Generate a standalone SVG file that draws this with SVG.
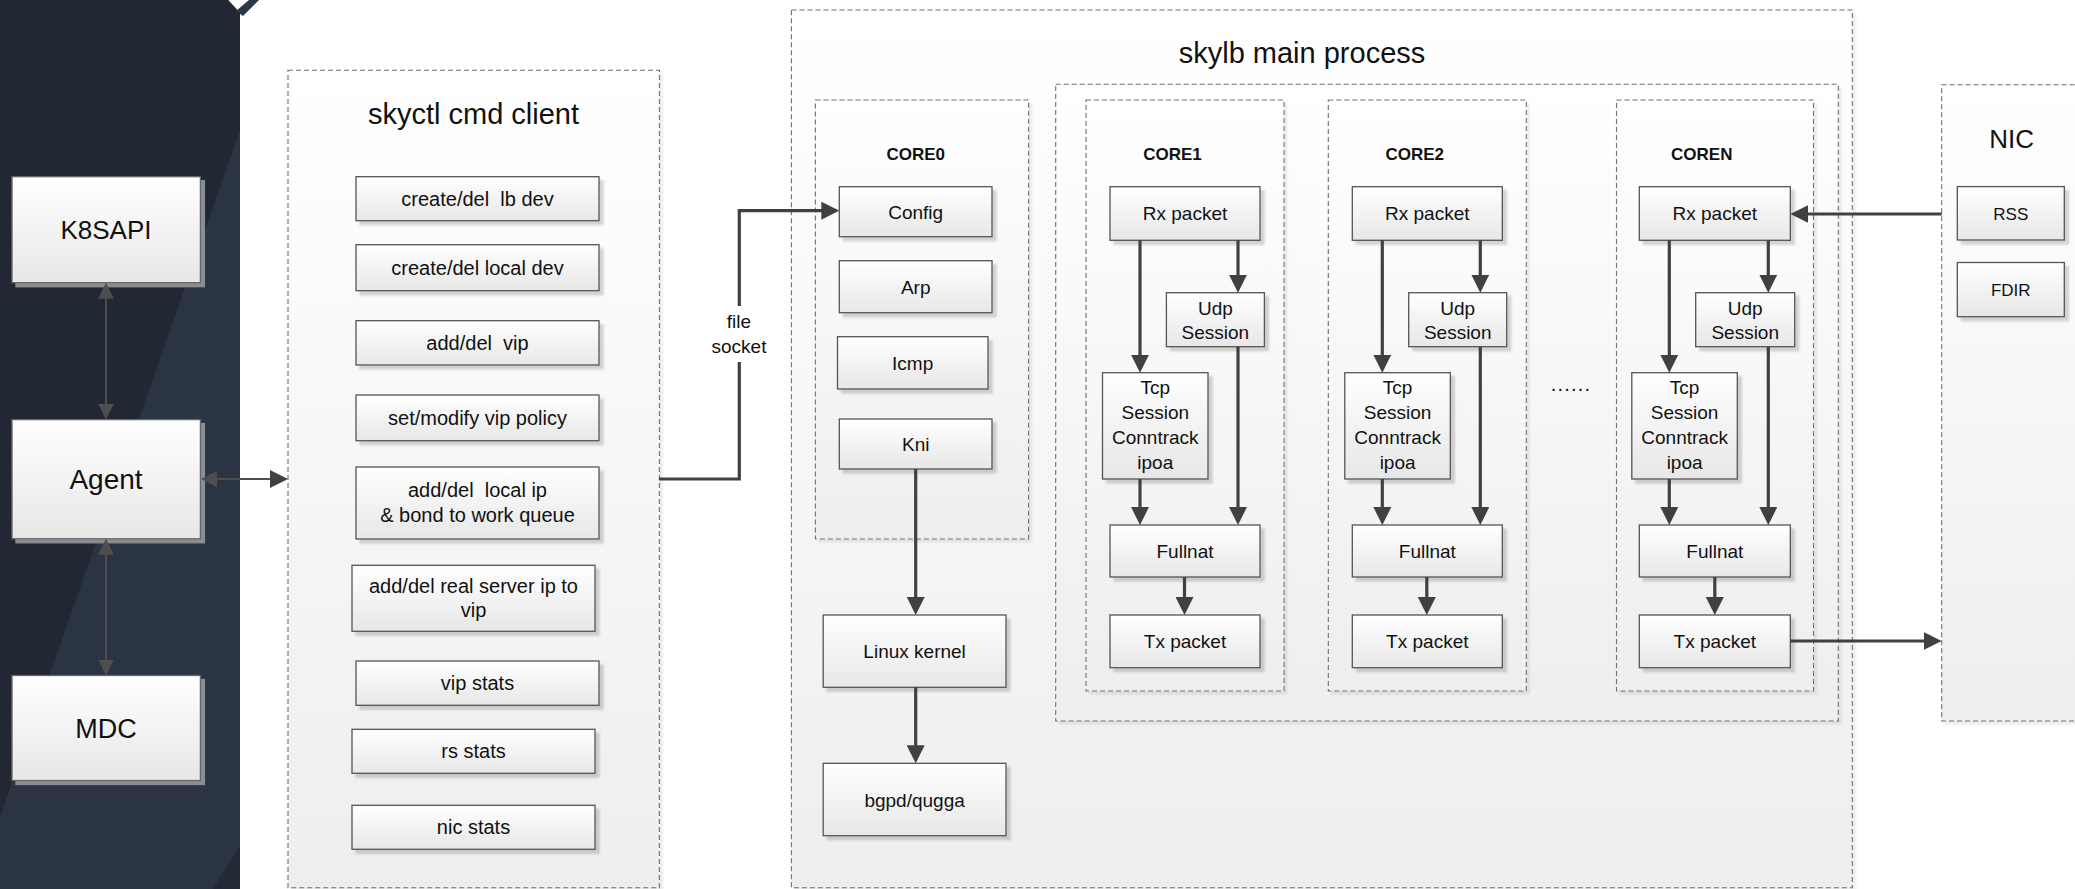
<svg xmlns="http://www.w3.org/2000/svg" width="2075" height="889" viewBox="0 0 2075 889">
<style>
.box{fill:url(#gBox);stroke:#555;stroke-width:1.3;filter:url(#ds)}
.dbox{fill:url(#gBox);stroke:#666;stroke-width:1.3;filter:url(#dsk)}
.cont{fill:url(#gCont);stroke:#707070;stroke-width:1.1;stroke-dasharray:5 3;filter:url(#dsc)}
.t{font-family:"Liberation Sans",Arial,sans-serif;fill:#111;text-anchor:middle}
.s20{font-size:20px}
.s19{font-size:19px}
.s17{font-size:17px}
.bold{font-weight:bold;font-size:17px}
.title{font-size:29px}
.ln{fill:none;stroke:#404040;stroke-width:3.2}
.lnt{fill:none;stroke:#4e4e4e;stroke-width:2}
</style>
<defs>
<linearGradient id="gBox" x1="0" y1="0" x2="0" y2="1"><stop offset="0" stop-color="#ffffff"/><stop offset="1" stop-color="#e7e7e7"/></linearGradient>
<linearGradient id="gCont" x1="0" y1="0" x2="0" y2="1"><stop offset="0" stop-color="#ffffff"/><stop offset="1" stop-color="#eeeeee"/></linearGradient>
<filter id="ds" x="-10%" y="-10%" width="130%" height="140%"><feDropShadow dx="4" dy="4" stdDeviation="0.8" flood-color="#000" flood-opacity="0.16"/></filter>
<filter id="dsk" x="-10%" y="-10%" width="130%" height="140%"><feDropShadow dx="4" dy="4" stdDeviation="0.5" flood-color="#8a8d93" flood-opacity="1"/></filter>
<filter id="dsc" x="-5%" y="-5%" width="110%" height="110%"><feDropShadow dx="3" dy="3" stdDeviation="0.8" flood-color="#000" flood-opacity="0.08"/></filter>
<marker id="ah" viewBox="0 0 18 18" markerWidth="18" markerHeight="18" refX="10" refY="9" orient="auto" markerUnits="userSpaceOnUse"><path d="M0,0 L18,9 L0,18 z" fill="#404040"/></marker>
<marker id="ahg" viewBox="0 0 16 16" markerWidth="16" markerHeight="16" refX="8" refY="8" orient="auto-start-reverse" markerUnits="userSpaceOnUse"><path d="M0,0 L16,8 L0,16 z" fill="#4e4e4e"/></marker>
</defs>
<rect x="0" y="0" width="2075" height="889" fill="#ffffff"/>
<g id="side-panel">
<rect x="0" y="0" width="240" height="889" fill="#222833"/>
<polygon points="240,130 240,889 0,889 0,817" fill="#2b3442"/>
<polygon points="240,845 240,889 213,889" fill="#232a35"/>
<polygon points="228.3,0 240,0 240,12.7" fill="#ffffff"/>
<polygon points="236,11 243,16 259,0 249,0" fill="#2c3849"/>
</g>
<g id="k8sapi"><rect class="dbox" x="12" y="176.7" width="188.4" height="106"/><text class="t" x="106" y="239" font-size="26">K8SAPI</text></g>
<g id="agent"><rect class="dbox" x="12" y="419.6" width="188.4" height="119.2"/><text class="t" x="106" y="488.5" font-size="28">Agent</text></g>
<g id="mdc"><rect class="dbox" x="12" y="675.5" width="188.4" height="105"/><text class="t" x="106" y="737.5" font-size="27">MDC</text></g>
<g id="skyctl">
<rect class="cont" x="288" y="70.3" width="371.4" height="817.4"/>
<text class="t title" x="473.5" y="124">skyctl cmd client</text>
<g id="cmd-lbdev"><rect class="box" x="356" y="176.7" width="243" height="44"/><text class="t s20" x="477.5" y="205.7" xml:space="preserve">create/del  lb dev</text></g>
<g id="cmd-localdev"><rect class="box" x="356" y="244.7" width="243" height="46"/><text class="t s20" x="477.5" y="274.7">create/del local dev</text></g>
<g id="cmd-vip"><rect class="box" x="356" y="320.7" width="243" height="44.3"/><text class="t s20" x="477.5" y="349.9" xml:space="preserve">add/del  vip</text></g>
<g id="cmd-policy"><rect class="box" x="356" y="395" width="243" height="45.7"/><text class="t s20" x="477.5" y="424.9">set/modify vip policy</text></g>
<g id="cmd-localip"><rect class="box" x="356" y="467" width="243" height="72"/><text class="t s20" x="477.5" y="497" xml:space="preserve">add/del  local ip</text><text class="t s20" x="477.5" y="522">&amp; bond to work queue</text></g>
<g id="cmd-rs"><rect class="box" x="352" y="565.3" width="243" height="66"/><text class="t s20" x="473.5" y="592.5">add/del real server ip to</text><text class="t s20" x="473.5" y="617">vip</text></g>
<g id="cmd-vipstats"><rect class="box" x="356" y="661" width="243" height="44.3"/><text class="t s20" x="477.5" y="690">vip stats</text></g>
<g id="cmd-rsstats"><rect class="box" x="352" y="729.3" width="243" height="44"/><text class="t s20" x="473.5" y="758.3">rs stats</text></g>
<g id="cmd-nicstats"><rect class="box" x="352" y="805.3" width="243" height="44"/><text class="t s20" x="473.5" y="834.3">nic stats</text></g>
</g>
<g id="skylb">
<rect class="cont" x="791.4" y="10" width="1060.9" height="877.7"/>
<text class="t title" x="1302" y="63">skylb main process</text>
<rect id="workers" class="cont" x="1055.7" y="84.3" width="782.6" height="636.7"/>
</g>
<g id="core0">
<rect class="cont" x="815.4" y="100" width="213.2" height="439"/>
<text class="t bold" x="915.7" y="160">CORE0</text>
<g id="config"><rect class="box" x="839.3" y="186.7" width="152.7" height="50"/><text class="t s19" x="915.7" y="218.5">Config</text></g>
<g id="arp"><rect class="box" x="839.3" y="260.7" width="152.7" height="52"/><text class="t s19" x="915.7" y="293.5">Arp</text></g>
<g id="icmp"><rect class="box" x="837.5" y="336.7" width="150.5" height="52.3"/><text class="t s19" x="912.7" y="369.6">Icmp</text></g>
<g id="kni"><rect class="box" x="839.3" y="419" width="152.7" height="50"/><text class="t s19" x="915.7" y="451">Kni</text></g>
</g>
<g id="linux-kernel"><rect class="box" x="823.2" y="615" width="182.8" height="72.3"/><text class="t s19" x="914.6" y="658">Linux kernel</text></g>
<g id="bgpd"><rect class="box" x="823.2" y="763.3" width="182.8" height="72.4"/><text class="t s19" x="914.6" y="806.5">bgpd/qugga</text></g>
<g id="core1">
<rect class="cont" x="1086" y="100" width="198" height="591"/>
<text class="t bold" x="1172.5" y="160">CORE1</text>
<g id="rx1"><rect class="box" x="1110" y="186.7" width="150" height="53.6"/><text class="t s19" x="1185" y="220">Rx packet</text></g>
<g id="udp1"><rect class="box" x="1166.4" y="292.7" width="98" height="54"/><text class="t s19" x="1215.4" y="314.7">Udp</text><text class="t s19" x="1215.4" y="338.7">Session</text></g>
<g id="tcp1"><rect class="box" x="1102.5" y="372.7" width="105.5" height="106.3"/><text class="t s19" x="1155.3" y="394">Tcp</text><text class="t s19" x="1155.3" y="419">Session</text><text class="t s19" x="1155.3" y="444">Conntrack</text><text class="t s19" x="1155.3" y="469">ipoa</text></g>
<g id="fullnat1"><rect class="box" x="1110" y="525" width="150" height="52"/><text class="t s19" x="1185" y="558">Fullnat</text></g>
<g id="tx1"><rect class="box" x="1110" y="615" width="150" height="52.7"/><text class="t s19" x="1185" y="648">Tx packet</text></g>
</g>
<g id="core2">
<rect class="cont" x="1328.3" y="100" width="198" height="591"/>
<text class="t bold" x="1414.8" y="160">CORE2</text>
<g id="rx2"><rect class="box" x="1352.3" y="186.7" width="150" height="53.6"/><text class="t s19" x="1427.3" y="220">Rx packet</text></g>
<g id="udp2"><rect class="box" x="1408.7" y="292.7" width="98" height="54"/><text class="t s19" x="1457.7" y="314.7">Udp</text><text class="t s19" x="1457.7" y="338.7">Session</text></g>
<g id="tcp2"><rect class="box" x="1344.8" y="372.7" width="105.5" height="106.3"/><text class="t s19" x="1397.6" y="394">Tcp</text><text class="t s19" x="1397.6" y="419">Session</text><text class="t s19" x="1397.6" y="444">Conntrack</text><text class="t s19" x="1397.6" y="469">ipoa</text></g>
<g id="fullnat2"><rect class="box" x="1352.3" y="525" width="150" height="52"/><text class="t s19" x="1427.3" y="558">Fullnat</text></g>
<g id="tx2"><rect class="box" x="1352.3" y="615" width="150" height="52.7"/><text class="t s19" x="1427.3" y="648">Tx packet</text></g>
</g>
<g id="ellipsis"><text class="t" x="1571" y="391" font-size="20" letter-spacing="1.2">......</text></g>
<g id="coren">
<rect class="cont" x="1616.5" y="100" width="197" height="591"/>
<text class="t bold" x="1701.8" y="160">COREN</text>
<g id="rxn"><rect class="box" x="1639.3" y="186.7" width="151" height="53.6"/><text class="t s19" x="1714.8" y="220">Rx packet</text></g>
<g id="udpn"><rect class="box" x="1695.7" y="292.7" width="99" height="54"/><text class="t s19" x="1745.2" y="314.7">Udp</text><text class="t s19" x="1745.2" y="338.7">Session</text></g>
<g id="tcpn"><rect class="box" x="1631.8" y="372.7" width="105.5" height="106.3"/><text class="t s19" x="1684.6" y="394">Tcp</text><text class="t s19" x="1684.6" y="419">Session</text><text class="t s19" x="1684.6" y="444">Conntrack</text><text class="t s19" x="1684.6" y="469">ipoa</text></g>
<g id="fullnatn"><rect class="box" x="1639.3" y="525" width="151" height="52"/><text class="t s19" x="1714.8" y="558">Fullnat</text></g>
<g id="txn"><rect class="box" x="1639.3" y="615" width="151" height="52.7"/><text class="t s19" x="1714.8" y="648">Tx packet</text></g>
</g>
<g id="nic">
<rect class="cont" x="1941.7" y="84.7" width="200" height="636.3"/>
<text class="t" x="2011.7" y="148" font-size="26">NIC</text>
<g id="rss"><rect class="box" x="1957.3" y="186.6" width="107" height="53.4"/><text class="t s17" x="2010.8" y="219.5">RSS</text></g>
<g id="fdir"><rect class="box" x="1957.3" y="262.5" width="107" height="54.2"/><text class="t s17" x="2010.8" y="295.6">FDIR</text></g>
</g>
<g id="connectors">
<path class="lnt" d="M106,290.7 V411.6" marker-start="url(#ahg)" marker-end="url(#ahg)"/>
<path class="lnt" d="M106,546.8 V667.5" marker-start="url(#ahg)" marker-end="url(#ahg)"/>
<path class="lnt" stroke-width="2.5" d="M209,479 H280" marker-start="url(#ahg)" marker-end="url(#ah)"/>
<path class="ln" d="M659,479 H739.3 V362 M739.3,306 V210.7 H831.3" marker-end="url(#ah)"/>
<path class="ln" d="M915.7,469 V607" marker-end="url(#ah)"/>
<path class="ln" d="M915.7,687.3 V755.3" marker-end="url(#ah)"/>
<path class="ln" d="M1140,240.3 V364.7" marker-end="url(#ah)"/>
<path class="ln" d="M1238,240.3 V284.7" marker-end="url(#ah)"/>
<path class="ln" d="M1140,479 V517" marker-end="url(#ah)"/>
<path class="ln" d="M1238,346.7 V517" marker-end="url(#ah)"/>
<path class="ln" d="M1184.5,577 V607" marker-end="url(#ah)"/>
<path class="ln" d="M1382.3,240.3 V364.7" marker-end="url(#ah)"/>
<path class="ln" d="M1480.3,240.3 V284.7" marker-end="url(#ah)"/>
<path class="ln" d="M1382.3,479 V517" marker-end="url(#ah)"/>
<path class="ln" d="M1480.3,346.7 V517" marker-end="url(#ah)"/>
<path class="ln" d="M1426.8,577 V607" marker-end="url(#ah)"/>
<path class="ln" d="M1669.3,240.3 V364.7" marker-end="url(#ah)"/>
<path class="ln" d="M1768.3,240.3 V284.7" marker-end="url(#ah)"/>
<path class="ln" d="M1669.3,479 V517" marker-end="url(#ah)"/>
<path class="ln" d="M1768.3,346.7 V517" marker-end="url(#ah)"/>
<path class="ln" d="M1714.8,577 V607" marker-end="url(#ah)"/>
<path class="ln" d="M1941.7,214 H1798.3" marker-end="url(#ah)"/>
<path class="ln" d="M1790.3,641 H1933.7" marker-end="url(#ah)"/>
</g>
<g id="labels"><text class="t s19" x="739" y="327.7">file</text><text class="t s19" x="739" y="353.3">socket</text></g>
</svg>
